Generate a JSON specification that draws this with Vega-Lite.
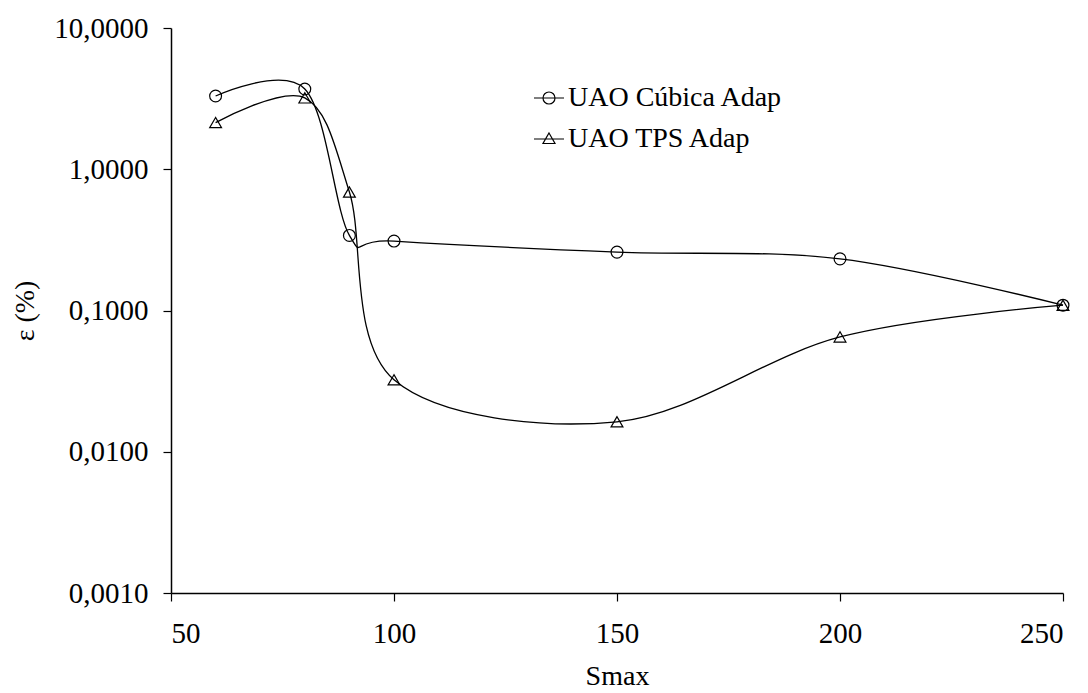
{
  "$schema": "https://vega.github.io/schema/vega-lite/v6.json",
  "width": 892,
  "height": 565,
  "autosize": "none",
  "padding": {"left": 171, "top": 28, "right": 25, "bottom": 100},
  "background": "white",
  "config": {
    "view": {"stroke": null},
    "font": "Times New Roman, serif",
    "axis": {"labelFont": "Times New Roman, serif", "titleFont": "Times New Roman, serif", "labelColor": "black", "titleColor": "black", "domainColor": "black", "tickColor": "black", "grid": false, "labelFontSize": 29, "titleFontSize": 28, "titleFontWeight": "normal", "domainWidth": 1.5, "tickWidth": 1.2, "tickSize": 8},
    "legend": {"labelFont": "Times New Roman, serif", "labelLimit": 500}
  },
  "data": {"values": [
    {"s": 60, "e": 3.3, "series": "UAO Cúbica Adap"},
    {"s": 80, "e": 3.7, "series": "UAO Cúbica Adap"},
    {"s": 90, "e": 0.34, "series": "UAO Cúbica Adap"},
    {"s": 100, "e": 0.31, "series": "UAO Cúbica Adap"},
    {"s": 150, "e": 0.259, "series": "UAO Cúbica Adap"},
    {"s": 200, "e": 0.232, "series": "UAO Cúbica Adap"},
    {"s": 250, "e": 0.109, "series": "UAO Cúbica Adap"},
    {"s": 60, "e": 2.14, "series": "UAO TPS Adap"},
    {"s": 80, "e": 3.2, "series": "UAO TPS Adap"},
    {"s": 90, "e": 0.69, "series": "UAO TPS Adap"},
    {"s": 100, "e": 0.0323, "series": "UAO TPS Adap"},
    {"s": 150, "e": 0.0163, "series": "UAO TPS Adap"},
    {"s": 200, "e": 0.065, "series": "UAO TPS Adap"},
    {"s": 250, "e": 0.109, "series": "UAO TPS Adap"}
  ]},
  "encoding": {
    "x": {"field": "s", "type": "quantitative", "scale": {"domain": [50, 250], "nice": false, "zero": false},
      "axis": {"values": [50, 100, 150, 200, 250], "title": "Smax", "labelPadding": 18, "titlePadding": 14}},
    "y": {"field": "e", "type": "quantitative", "scale": {"type": "log", "domain": [0.001, 10], "nice": false},
      "axis": {"values": [0.001, 0.01, 0.1, 1, 10], "labelExpr": "replace(format(datum.value, '.4f'), '.', ',')", "title": "ε (%)", "labelPadding": 15, "titlePadding": 14}}
  },
  "layer": [
    {
      "mark": {"type": "line", "interpolate": "cardinal", "tension": 0, "color": "black", "strokeWidth": 1.3},
      "encoding": {"detail": {"field": "series"}}
    },
    {
      "mark": {"type": "point", "filled": false, "color": "black", "strokeWidth": 1.2, "size": 140, "opacity": 1},
      "encoding": {"shape": {"field": "series", "scale": {"domain": ["UAO Cúbica Adap", "UAO TPS Adap"], "range": ["circle", "triangle-up"]}, "legend": null}}
    },
    {
      "mark": {"type": "point", "filled": false, "color": "black", "strokeWidth": 1.2, "size": 900, "opacity": 0},
      "encoding": {"shape": {"field": "series", "scale": {"domain": ["UAO Cúbica Adap", "UAO TPS Adap"], "range": ["M-1,0H1M0.4,0A0.4,0.4,0,1,1,-0.4,0A0.4,0.4,0,1,1,0.4,0", "M-1,0H1M0,-0.4L0.4,0.3L-0.4,0.3Z"]},
        "legend": {"title": null, "orient": "none", "legendX": 362, "legendY": 54, "labelFontSize": 28, "labelColor": "black", "labelLimit": 500, "symbolSize": 900, "symbolStrokeWidth": 1.2, "symbolStrokeColor": "black", "symbolFillColor": "transparent", "rowPadding": 11, "labelOffset": 3,
          "encode": {"symbols": {"update": {"opacity": {"value": 1}, "stroke": {"value": "black"}, "fill": {"value": "transparent"}}}}}}}
    }
  ],
  "resolve": {"scale": {"shape": "independent"}}
}
